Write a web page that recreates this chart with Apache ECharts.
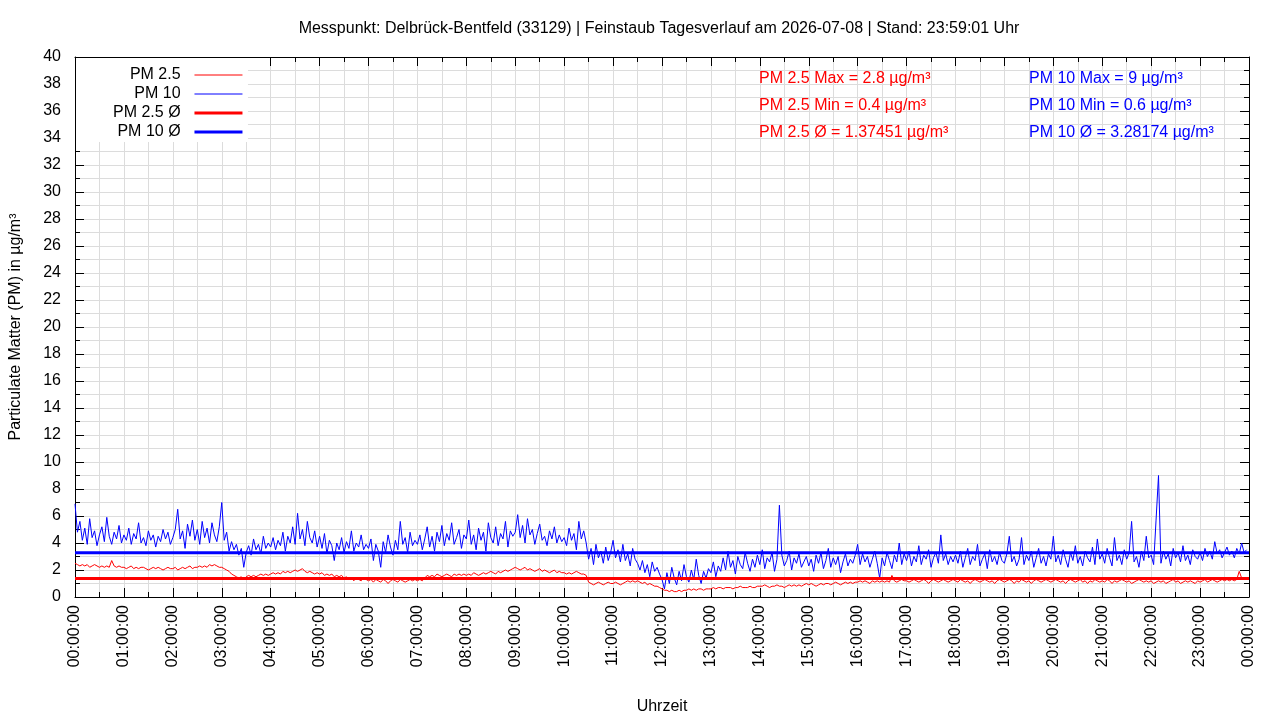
<!DOCTYPE html>
<html>
<head>
<meta charset="utf-8">
<title>Feinstaub Tagesverlauf</title>
<script src="https://cdn.jsdelivr.net/npm/echarts@6/dist/echarts.min.js"></script>
<style>
  html, body { margin: 0; padding: 0; background: #fff; }
  #chart { width: 1280px; height: 720px; }
</style>
</head>
<body>
<div id="chart"></div>
<script>
// one reading every 3 minutes, 20 per hour row
var stepMinutes = 3;

var pm25 = [
  2.5, 2.4, 2.3, 2.4, 2.3, 2.4, 2.2, 2.3, 2.4, 2.3, 2.2, 2.3, 2.2, 2.3, 2.2, 2.7, 2.3, 2.2, 2.3, 2.2,
  2.2, 2.1, 2.2, 2.3, 2.1, 2.2, 2.1, 2.2, 2.2, 2.1, 2.0, 2.1, 2.2, 2.1, 2.2, 2.1, 2.0, 2.1, 2.2, 2.1,
  2.1, 2.2, 2.0, 2.1, 2.2, 2.1, 2.2, 2.3, 2.1, 2.2, 2.2, 2.3, 2.2, 2.3, 2.2, 2.4, 2.3, 2.4, 2.3, 2.2,
  2.2, 2.1, 2.0, 1.9, 1.7, 1.6, 1.5, 1.4, 1.5, 1.3, 1.5, 1.6, 1.5, 1.6, 1.5, 1.6, 1.7, 1.6, 1.7, 1.6,
  1.7, 1.8, 1.7, 1.8, 1.7, 1.9, 1.8, 1.9, 1.8, 1.9, 2.0, 1.9, 2.0, 2.1, 1.9, 1.8, 1.9, 1.8, 1.7, 1.8,
  1.7, 1.8, 1.6, 1.7, 1.6, 1.7, 1.5, 1.6, 1.5, 1.6, 1.4, 1.5, 1.3, 1.4, 1.2, 1.4, 1.3, 1.2, 1.4, 1.3,
  1.2, 1.3, 1.1, 1.3, 1.2, 1.1, 1.3, 1.2, 1.0, 1.2, 1.3, 1.2, 1.1, 1.3, 1.2, 1.1, 1.2, 1.3, 1.2, 1.3,
  1.2, 1.3, 1.2, 1.4, 1.6, 1.5, 1.6, 1.5, 1.7, 1.6, 1.5, 1.6, 1.7, 1.6, 1.5, 1.7, 1.6, 1.7, 1.6, 1.7,
  1.6, 1.7, 1.6, 1.8, 1.7, 1.6, 1.7, 1.8, 1.7, 1.8, 1.9, 1.8, 1.7, 1.9, 1.8, 1.9, 2.0, 1.9, 2.0, 2.1,
  2.2, 2.1, 2.0, 2.1, 2.2, 2.0, 2.1, 2.0, 1.9, 2.0, 2.1, 1.9, 2.0, 1.9, 1.8, 1.9, 2.0, 1.8, 1.9, 1.8,
  1.8, 1.7, 1.8, 1.7, 1.8, 1.9, 1.8, 1.7, 1.7, 1.6, 1.1, 1.0, 0.9, 1.0, 1.1, 1.0, 0.9, 1.0, 1.1, 1.0,
  1.0, 1.1, 1.0, 0.9, 1.0, 1.1, 1.2, 1.1, 1.2, 1.1, 1.2, 1.1, 1.0, 1.1, 0.9, 1.0, 0.9, 0.8, 0.8, 0.7,
  0.6, 0.5, 0.5, 0.4, 0.5, 0.4, 0.4, 0.5, 0.4, 0.5, 0.5, 0.6, 0.5, 0.6, 0.5, 0.6, 0.6, 0.5, 0.6, 0.6,
  0.6, 0.7, 0.6, 0.7, 0.7, 0.6, 0.7, 0.7, 0.7, 0.6, 0.7, 0.7, 0.8, 0.7, 0.7, 0.7, 0.8, 0.7, 0.7, 0.8,
  0.8, 0.8, 0.9, 0.8, 0.7, 0.8, 0.8, 0.9, 0.8, 0.8, 0.7, 0.8, 0.9, 0.8, 0.9, 0.8, 0.9, 0.8, 0.9, 1.0,
  0.9, 1.0, 0.9, 0.8, 0.9, 1.0, 0.9, 1.0, 1.0, 0.9, 1.0, 1.1, 1.0, 0.9, 1.0, 1.1, 1.0, 1.1, 1.0, 1.1,
  1.1, 1.2, 1.1, 1.2, 1.1, 1.0, 1.2, 1.1, 1.2, 1.1, 1.2, 1.1, 1.2, 1.1, 1.6, 1.2, 1.1, 1.2, 1.3, 1.2,
  1.2, 1.1, 1.2, 1.3, 1.2, 1.1, 1.2, 1.3, 1.2, 1.0, 1.2, 1.3, 1.2, 1.1, 1.2, 1.3, 1.2, 1.1, 1.2, 1.3,
  1.2, 1.1, 1.3, 1.2, 1.1, 1.2, 1.0, 1.2, 1.3, 1.2, 1.1, 1.2, 1.3, 1.2, 1.1, 1.2, 1.0, 1.2, 1.3, 1.2,
  1.1, 1.2, 1.3, 1.2, 1.0, 1.2, 1.1, 1.3, 1.2, 1.1, 1.2, 1.0, 1.2, 1.3, 1.2, 1.1, 1.2, 1.3, 1.2, 1.1,
  1.2, 1.3, 1.2, 1.1, 1.2, 1.0, 1.2, 1.3, 1.2, 1.1, 1.2, 1.3, 1.1, 1.2, 1.0, 1.2, 1.1, 1.3, 1.2, 1.1,
  1.2, 1.1, 1.3, 1.2, 1.0, 1.2, 1.1, 1.2, 1.3, 1.2, 1.1, 1.2, 1.0, 1.1, 1.2, 1.3, 1.2, 1.1, 1.2, 1.1,
  1.2, 1.0, 1.1, 1.2, 1.1, 1.2, 1.0, 1.1, 1.2, 1.3, 1.1, 1.2, 1.0, 1.1, 1.2, 1.1, 1.2, 1.1, 1.0, 1.2,
  1.1, 1.2, 1.3, 1.1, 1.2, 1.3, 1.2, 1.1, 1.2, 1.3, 1.2, 1.3, 1.2, 1.3, 1.2, 1.3, 1.9, 1.4, 1.3, 1.4
];

var pm10 = [
  6.9, 4.8, 5.6, 4.2, 5.1, 3.9, 5.8, 4.4, 4.9, 3.8, 4.6, 5.2, 4.1, 5.9, 4.5, 3.9, 4.8, 4.3, 5.3, 4.0,
  4.6, 4.2, 5.1, 3.9, 4.7, 4.3, 5.5, 4.0, 4.4, 3.8, 4.9, 4.2, 4.6, 3.7, 4.5, 4.1, 5.0, 4.3, 4.8, 3.9,
  4.4, 5.0, 6.5, 4.3, 4.9, 3.6, 5.4, 4.5, 5.7, 4.2, 5.0, 3.9, 5.6, 4.4, 5.1, 4.0, 5.5, 4.6, 4.1, 5.2,
  7.0, 4.2, 4.8, 3.4, 4.1, 3.5, 3.9, 3.1, 3.6, 2.2, 3.3, 3.8, 3.1, 4.3, 3.5, 3.9, 3.2, 4.5, 3.6, 4.0,
  3.7, 4.4, 3.5, 4.2, 3.8, 4.8, 3.4, 4.5, 4.0, 5.2, 3.9, 6.2, 4.3, 5.0, 3.8, 5.6, 4.4, 4.0, 4.9, 3.7,
  4.5, 3.6, 4.7, 3.2, 4.2, 3.8, 2.7, 4.0, 3.5, 4.4, 3.3, 4.1, 3.6, 4.9, 3.4, 4.0, 3.7, 4.6, 3.5, 3.9,
  3.6, 4.3, 2.7, 3.9, 3.4, 2.2, 4.1, 3.3, 4.6, 3.7, 3.1, 4.2, 3.5, 5.6, 3.9, 4.4, 3.3, 4.8, 3.8, 4.2,
  3.9, 4.6, 3.5, 4.3, 5.2, 3.7, 4.5, 3.4, 4.8, 4.1, 5.3, 3.8, 4.7, 4.2, 5.5, 3.9, 4.4, 5.0, 3.6, 4.6,
  4.3, 5.7, 3.9, 4.6, 3.5, 5.1, 4.2, 4.8, 3.4, 5.5, 4.4, 4.0, 5.2, 3.8, 4.7, 4.3, 5.6, 3.7, 4.9, 4.5,
  4.8, 6.1, 4.4, 5.3, 4.0, 5.8, 4.6, 5.0, 3.9, 4.7, 5.4, 4.2, 4.5, 3.8, 4.9, 4.3, 5.2, 4.0, 4.6, 4.1,
  4.4, 3.8, 5.1, 4.2, 4.7, 3.5, 5.6, 4.3, 4.9, 4.0, 2.8, 3.6, 2.4, 3.9, 2.9, 3.4, 2.5, 3.7, 2.7, 3.3,
  4.2, 2.9, 3.5, 2.6, 3.9, 2.7, 3.2, 2.3, 3.6, 2.8, 2.5, 2.0, 2.7, 1.8, 2.4, 1.5, 2.6, 1.9, 2.2, 1.7,
  1.3, 0.6, 1.8, 1.0, 2.2, 1.4, 0.9, 1.9, 1.2, 2.4, 1.5, 1.1, 2.0, 1.3, 2.8, 1.6, 1.0, 1.9, 1.4, 2.1,
  1.8, 2.6, 1.5, 2.3, 1.9, 2.9, 2.0, 3.4, 2.2, 2.7, 1.7, 3.0, 2.4, 2.1, 3.3, 2.5, 1.9, 2.8, 2.2, 3.1,
  2.4, 3.5, 2.1, 2.9, 2.6, 3.3, 1.9, 2.8, 6.8, 3.1, 2.3, 2.7, 3.4, 2.0, 2.9, 2.5, 3.2, 2.2, 2.6, 3.0,
  2.3, 2.8, 1.9, 3.1, 2.5, 3.3, 2.1, 2.7, 3.6, 2.2, 2.9, 2.4, 3.0, 1.8, 2.6, 3.2, 2.3, 2.8, 2.5, 3.1,
  3.9, 2.4, 3.2, 2.6, 3.0, 2.2, 2.8, 3.4, 2.5, 1.4, 2.9, 2.3, 3.3, 2.7, 2.1, 3.1, 2.6, 4.0, 2.4, 3.2,
  2.7, 3.4, 2.3, 3.0, 2.6, 3.8, 2.4, 3.1, 2.8, 3.5, 2.2, 2.9, 3.3, 2.5, 4.6, 2.7, 3.2, 2.4, 3.0, 2.6,
  3.1, 2.5, 3.4, 2.2, 2.9, 3.6, 2.4, 3.0, 2.7, 3.9, 2.3, 2.8, 3.2, 2.1, 3.5, 2.6, 3.0, 2.4, 3.3, 2.7,
  2.5, 3.2, 4.5, 2.6, 3.0, 2.3, 2.8, 4.4, 2.4, 3.1, 2.7, 3.4, 2.2, 2.9, 3.6, 2.5, 3.0, 2.3, 3.2, 2.8,
  4.5, 2.6, 3.1, 2.4, 3.5, 2.8, 2.2, 3.3, 2.7, 3.8, 2.5, 3.0, 2.3, 3.4, 2.9, 2.6, 3.7, 2.4, 4.3, 2.8,
  3.2, 2.5, 3.6, 2.9, 2.3, 4.4, 2.7, 3.1, 2.4, 3.5, 2.8, 3.3, 5.6, 2.6, 3.0, 2.2, 3.4, 2.7, 4.5, 2.9,
  3.1, 2.4, 5.7, 9.0, 2.5, 3.4, 2.8, 3.2, 2.3, 3.6, 2.9, 3.3, 2.6, 3.8, 2.7, 3.1, 2.4, 3.5, 3.0, 2.8,
  3.3, 2.7, 3.6, 3.0, 3.4, 2.8, 4.1, 3.2, 3.5, 2.9, 3.3, 3.7, 3.1, 3.4, 2.9, 3.6, 3.2, 4.0, 3.3, 3.5
];

// daily statistics as printed on the chart
var pm25Max = 2.8, pm25Min = 0.4, pm25Avg = 1.37451;
var pm10Max = 9, pm10Min = 0.6, pm10Avg = 3.28174;

var seriesNames = ['PM 2.5', 'PM 10', 'PM 2.5 \u00d8', 'PM 10 \u00d8'];
var seriesWidths = [1, 1, 3, 3];
var yTicks = { min: 0, max: 40, interval: 2 };
var xTicks = { min: 0, max: 1440, interval: 60 };

var FONT = 'Liberation Sans';
var GRID_COLOR = '#dcdcdc';

function withTime(values) {
    return values.map(function(v, i) { return [i * stepMinutes, v]; });
}

function constantLine(v) {
    return [[xTicks.min, v], [xTicks.max, v]];
}

function hourLabel(v) {
    var h = Math.round(v / 60) % 24;
    return (h < 10 ? '0' : '') + h + ':00:00';
}

var chart = echarts.init(document.getElementById('chart'), null, { renderer: 'canvas' });

var statFont = '16px "' + FONT + '"';
function statText(x, y, text, color) {
    return { type: 'text', left: x, top: y, z: 10,
             style: { text: text, fill: color, font: statFont } };
}

var mirrorAxisLine = { show: true, onZero: false, lineStyle: { color: '#000', width: 1 } };

var option = {
    animation: false,
    textStyle: { fontFamily: FONT },
    title: {
        text: 'Messpunkt: Delbrück-Bentfeld (33129) | Feinstaub Tagesverlauf am 2026-07-08 | Stand: 23:59:01 Uhr',
        left: 654,
        textAlign: 'center',
        top: 16,
        textStyle: { fontSize: 16, fontWeight: 'normal', color: '#000', fontFamily: FONT }
    },
    legend: {
        data: seriesNames.map(function(n, i) {
            return { name: n, lineStyle: { width: seriesWidths[i] } };
        }),
        orient: 'vertical',
        align: 'right',
        left: 76,
        top: 58,
        padding: [9, 4, 2, 37],
        itemWidth: 48,
        itemHeight: 14,
        itemGap: 3,
        backgroundColor: '#fff',
        itemStyle: { opacity: 0 },
        formatter: function(name) { return name + '  '; },
        textStyle: { fontSize: 16, color: '#000', fontFamily: FONT },
        selectedMode: false
    },
    grid: { left: 75, right: 31, top: 57, bottom: 123, containLabel: false, outerBoundsMode: 'none' },
    xAxis: [{
        type: 'value',
        min: xTicks.min, max: xTicks.max, interval: xTicks.interval,
        name: 'Uhrzeit',
        nameLocation: 'middle',
        nameGap: 102,
        nameTextStyle: { fontSize: 16, color: '#000', fontFamily: FONT },
        axisLine: mirrorAxisLine,
        axisTick: { show: true, inside: true, length: 9, lineStyle: { color: '#000' } },
        minorTick: { show: true, splitNumber: 2, length: 5, lineStyle: { color: '#000' } },
        axisLabel: { rotate: 90, margin: 8, fontSize: 16, color: '#000', formatter: hourLabel },
        splitLine: { show: true, lineStyle: { color: GRID_COLOR, width: 1 } },
        minorSplitLine: { show: true, lineStyle: { color: GRID_COLOR, width: 1 } }
    }, {
        type: 'value', position: 'top',
        min: xTicks.min, max: xTicks.max, interval: xTicks.interval,
        axisLine: mirrorAxisLine,
        axisTick: { show: true, inside: true, length: 9, lineStyle: { color: '#000' } },
        minorTick: { show: true, splitNumber: 2, length: 5, lineStyle: { color: '#000' } },
        axisLabel: { show: false },
        splitLine: { show: false }
    }],
    yAxis: [{
        type: 'value',
        min: yTicks.min, max: yTicks.max, interval: yTicks.interval,
        name: 'Particulate Matter (PM) in µg/m³',
        nameLocation: 'middle',
        nameGap: 51,
        nameTextStyle: { fontSize: 16, color: '#000', fontFamily: FONT },
        axisLine: mirrorAxisLine,
        axisTick: { show: true, inside: true, length: 9, lineStyle: { color: '#000' } },
        minorTick: { show: true, splitNumber: 2, length: 5, lineStyle: { color: '#000' } },
        axisLabel: { margin: 14, fontSize: 16, color: '#000' },
        splitLine: { show: true, lineStyle: { color: GRID_COLOR, width: 1 } },
        minorSplitLine: { show: true, lineStyle: { color: GRID_COLOR, width: 1 } }
    }, {
        type: 'value', position: 'right',
        min: yTicks.min, max: yTicks.max, interval: yTicks.interval,
        axisLine: mirrorAxisLine,
        axisTick: { show: true, inside: true, length: 9, lineStyle: { color: '#000' } },
        minorTick: { show: true, splitNumber: 2, length: 5, lineStyle: { color: '#000' } },
        axisLabel: { show: false },
        splitLine: { show: false }
    }],
    graphic: [
        statText(759, 71, 'PM 2.5 Max = ' + pm25Max + ' µg/m³', '#ff0000'),
        statText(759, 98, 'PM 2.5 Min = ' + pm25Min + ' µg/m³', '#ff0000'),
        statText(759, 125, 'PM 2.5 \u00d8 = ' + pm25Avg + ' µg/m³', '#ff0000'),
        statText(1029, 71, 'PM 10 Max = ' + pm10Max + ' µg/m³', '#0000ff'),
        statText(1029, 98, 'PM 10 Min = ' + pm10Min + ' µg/m³', '#0000ff'),
        statText(1029, 125, 'PM 10 \u00d8 = ' + pm10Avg + ' µg/m³', '#0000ff')
    ],
    series: [
        {
            name: seriesNames[0], type: 'line', symbol: 'none',
            data: withTime(pm25),
            lineStyle: { color: '#ff0000', width: seriesWidths[0] }, itemStyle: { color: '#ff0000' }
        },
        {
            name: seriesNames[1], type: 'line', symbol: 'none',
            data: withTime(pm10),
            lineStyle: { color: '#0000ff', width: seriesWidths[1] }, itemStyle: { color: '#0000ff' }
        },
        {
            name: seriesNames[2], type: 'line', symbol: 'none',
            data: constantLine(pm25Avg),
            lineStyle: { color: '#ff0000', width: seriesWidths[2] }, itemStyle: { color: '#ff0000' }
        },
        {
            name: seriesNames[3], type: 'line', symbol: 'none',
            data: constantLine(pm10Avg),
            lineStyle: { color: '#0000ff', width: seriesWidths[3] }, itemStyle: { color: '#0000ff' }
        }
    ]
};

chart.setOption(option);
</script>
</body>
</html>
